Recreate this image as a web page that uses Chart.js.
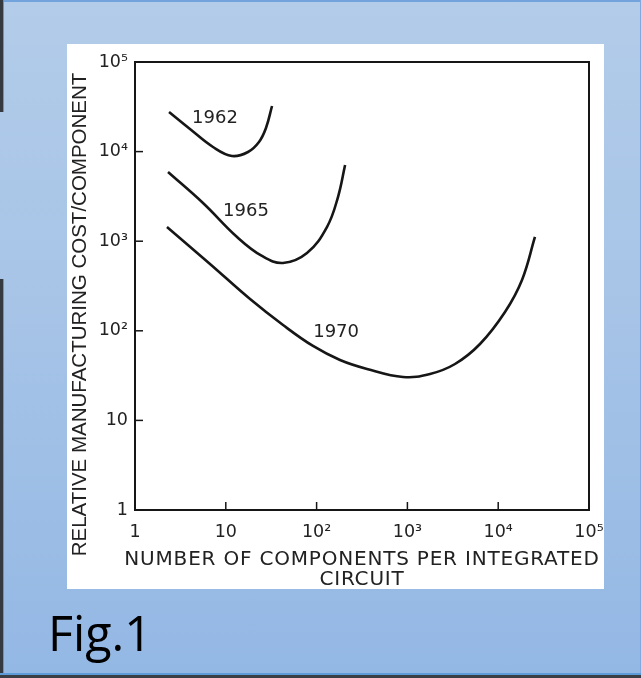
<!DOCTYPE html>
<html><head><meta charset="utf-8">
<script src="https://cdn.jsdelivr.net/npm/chart.js@4.4.0/dist/chart.umd.min.js"></script>
<style>
html,body{margin:0;padding:0;}
body{width:641px;height:678px;overflow:hidden;position:relative;background:linear-gradient(to bottom,#b2cce9 0%,#a7c4e7 45%,#93b8e4 100%);}
#topline{position:absolute;left:0;top:0;width:641px;height:2px;background:#72a3dc;}
#bl1{position:absolute;left:0;top:0;width:3px;height:112px;background:#343a40;border-right:1px solid #5f95d3;}
#bl2{position:absolute;left:0;top:279px;width:3px;height:399px;background:#343a40;border-right:1px solid #5f95d3;}
#bottom1{position:absolute;left:0;top:673px;width:641px;height:2px;background:#5e9bd9;}
#bottom2{position:absolute;left:0;top:675px;width:641px;height:3px;background:#3a3f45;}
#rightline{position:absolute;right:0;top:0;width:1px;height:678px;background:#7fa9df;}
#panel{position:absolute;left:67px;top:44px;width:537px;height:545px;background:#fff;}
#fig{position:absolute;left:48px;top:607px;font-family:"Open Sans",sans-serif;font-size:50px;color:#000;transform:scaleX(0.97);transform-origin:left top;line-height:1;white-space:nowrap;}
</style>
</head>
<body>
<div id="topline"></div>
<div id="rightline"></div>
<div id="bl1"></div>
<div id="bl2"></div>
<div id="bottom1"></div>
<div id="bottom2"></div>
<div id="panel"><canvas id="c" width="537" height="545"></canvas></div>
<div id="fig">Fig.1</div>
<script>
// ---- data ----
const xTicks = [1, 10, 100, 1000, 10000, 100000];
const xTickLabels = ['1', '10', '10²', '10³', '10⁴', '10⁵'];
const yTicks = [1, 10, 100, 1000, 10000, 100000];
const yTickLabels = ['1', '10', '10²', '10³', '10⁴', '10⁵'];

const curveNames = ['1962', '1965', '1970'];

const x1962 = [2.37, 4.03, 7.23, 11.7, 17.56, 23.2, 27.7, 32.3];
const y1962 = [27670, 17870, 11250, 8930, 9900, 12800, 18340, 32270];

const x1965 = [2.31, 5.61, 13.3, 25.0, 42.7, 78.4, 130, 172, 206];
const y1965 = [5920, 2670, 1114, 684, 571, 738, 1440, 3113, 7087];

const x1970 = [2.25, 6.7, 18.5, 42.7, 91.3, 181, 359, 895, 1774, 3344, 6302, 11880, 18290, 25400];
const y1970 = [1440, 557, 226, 116, 67.7, 47.2, 37.5, 30.5, 32.95, 42.6, 71.2, 162.1, 369, 1114];

const labelX = [7.6, 16.7, 164];
const labelY = [23700, 2170, 97];

const xTitle = ['NUMBER OF COMPONENTS PER INTEGRATED', 'CIRCUIT'];
const yTitle = 'RELATIVE MANUFACTURING COST/COMPONENT';

// ---- build ----
const pts = (xs, ys) => xs.map((x, i) => ({x: x, y: ys[i]}));
const seriesX = [x1962, x1965, x1970];
const seriesY = [y1962, y1965, y1970];

const ink = '#161616';
const textInk = '#222';

const deco = {
  id: 'deco',
  afterDatasetsDraw(chart) {
    const {ctx, chartArea: a, scales: {x, y}} = chart;
    ctx.save();
    ctx.strokeStyle = ink;
    ctx.lineWidth = 2;
    ctx.strokeRect(a.left, a.top, a.right - a.left, a.bottom - a.top);
    ctx.lineWidth = 1.5;
    xTicks.forEach(v => {
      const px = x.getPixelForValue(v);
      ctx.beginPath(); ctx.moveTo(px, a.bottom); ctx.lineTo(px, a.bottom - 8); ctx.stroke();
    });
    yTicks.forEach(v => {
      const py = y.getPixelForValue(v);
      ctx.beginPath(); ctx.moveTo(a.left, py); ctx.lineTo(a.left + 8, py); ctx.stroke();
    });
    ctx.fillStyle = textInk;
    ctx.font = '18px "DejaVu Sans"';
    ctx.textAlign = 'center';
    ctx.textBaseline = 'middle';
    curveNames.forEach((t, i) => {
      ctx.fillText(t, x.getPixelForValue(labelX[i]), y.getPixelForValue(labelY[i]));
    });
    // x-axis title (two lines)
    ctx.font = '20px "DejaVu Sans"';
    ctx.letterSpacing = '0.8px';
    const cx = (a.left + a.right) / 2;
    xTitle.forEach((t, i) => ctx.fillText(t, cx, a.bottom + 50 + i * 20));
    // y-axis title
    ctx.letterSpacing = '0px';
    ctx.translate(13.5, 270.5);
    ctx.rotate(-Math.PI / 2);
    ctx.font = '20.5px "Liberation Sans"';
    ctx.fillText(yTitle, 0, 0);
    ctx.restore();
  }
};

const tickFont = {family: 'DejaVu Sans', size: 17.5};

new Chart(document.getElementById('c'), {
  type: 'line',
  data: {
    datasets: curveNames.map((n, i) => ({
      label: n,
      data: pts(seriesX[i], seriesY[i]),
      borderColor: ink,
      borderWidth: 2.6,
      pointRadius: 0,
      fill: false,
      tension: 0.4
    }))
  },
  options: {
    responsive: false,
    animation: false,
    layout: {padding: {top: 18, right: 15, left: 0, bottom: 0}},
    plugins: {legend: {display: false}, tooltip: {enabled: false}},
    scales: {
      x: {
        type: 'logarithmic', min: 1, max: 100000,
        afterBuildTicks: s => { s.ticks = xTicks.map(v => ({value: v})); },
        afterFit: s => { s.height = 79; s.paddingLeft = 0; s.paddingRight = 0; },
        grid: {display: false, drawTicks: false},
        border: {display: false},
        ticks: {autoSkip: false, maxRotation: 0, padding: 12, color: textInk, font: tickFont,
          callback: v => xTickLabels[xTicks.indexOf(v)]}
      },
      y: {
        type: 'logarithmic', min: 1, max: 100000,
        afterBuildTicks: s => { s.ticks = yTicks.map(v => ({value: v})); },
        afterFit: s => { s.width = 68; s.paddingTop = 0; s.paddingBottom = 0; },
        grid: {display: false, drawTicks: false},
        border: {display: false},
        ticks: {autoSkip: false, padding: 7, color: textInk, font: tickFont,
          callback: v => yTickLabels[yTicks.indexOf(v)]}
      }
    }
  },
  plugins: [deco]
});
</script>
</body></html>
